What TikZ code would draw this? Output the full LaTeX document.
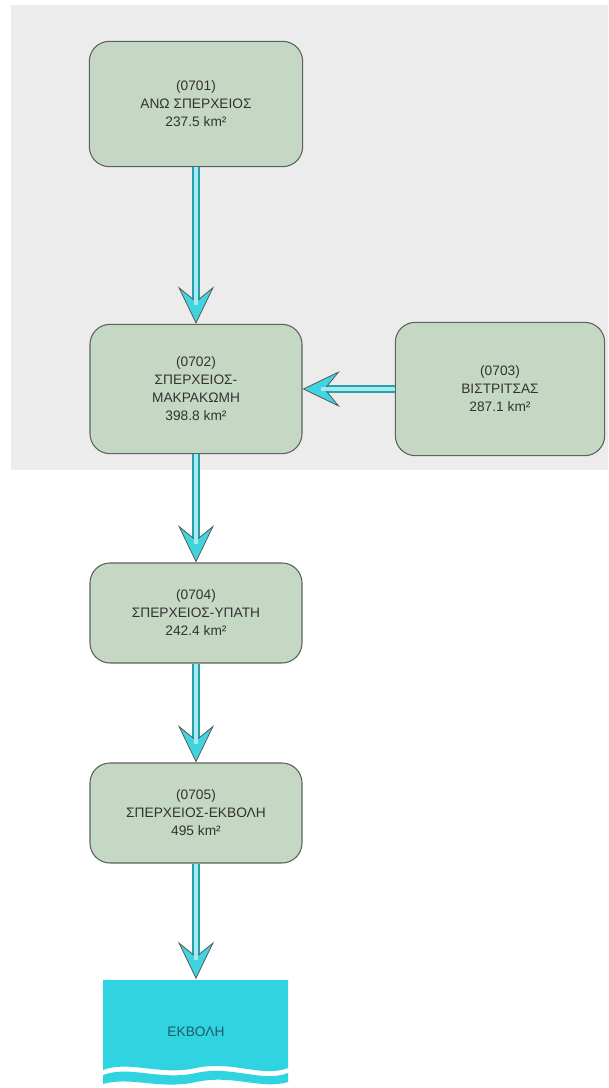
\documentclass[tikz,border=0pt]{standalone}
\usepackage{fontspec}
\setmainfont{Liberation Sans}
\usetikzlibrary{arrows.meta}
\definecolor{bgcloud}{RGB}{236,236,236}
\definecolor{boxfill}{RGB}{197,216,195}
\definecolor{boxline}{RGB}{92,98,92}
\definecolor{flowout}{RGB}{40,160,170}
\definecolor{flowin}{RGB}{165,234,242}
\definecolor{flowtip}{RGB}{64,212,224}
\definecolor{seacol}{RGB}{48,212,224}
\definecolor{txtcol}{RGB}{50,50,50}
\tikzset{
  basin/.style={draw=boxline, line width=0.8pt, fill=boxfill, rounded corners=15pt,
    align=center, text=txtcol, inner sep=0pt, font=\fontsize{10.3}{13.5}\selectfont},
  flow/.style={draw=flowout, line width=6pt,
    -{Stealth[length=28pt,width=27pt,inset=11pt,line width=0.6pt,fill=flowtip,color=gray!70!black]},
    postaction={draw=flowin, line width=2.6pt, -, shorten >=14pt}}
}
\begin{document}
\begin{tikzpicture}[x=0.75pt,y=0.75pt,yscale=-1,xscale=1]
\useasboundingbox (0,0) rectangle (608,1088);

%Shape: Background
\fill[white] (0,0) rectangle (608,1088);
\fill[bgcloud] (11,5) rectangle (608,470);

%Shape: Sea
\fill[seacol] (103,980) -- (288,980) -- (288,1068) .. controls (262,1078) and (232,1060) .. (196,1068) .. controls (160,1076) and (130,1060) .. (103,1070) -- cycle ;
\fill[seacol] (103,1075) .. controls (130,1065) and (160,1081) .. (196,1073) .. controls (232,1065) and (262,1083) .. (288,1073) -- (288,1082) .. controls (262,1090) and (232,1074) .. (196,1082) .. controls (160,1090) and (130,1076) .. (103,1084) -- cycle ;

% Text Node
\node[basin, minimum width=160pt, minimum height=94pt] (b0701) at (196,104) {(0701)\\ΑΝΩ ΣΠΕΡΧΕΙΟΣ\\237.5 km²};
% Text Node
\node[basin, minimum width=159pt, minimum height=97pt] (b0702) at (196,389) {(0702)\\ΣΠΕΡΧΕΙΟΣ-\\ΜΑΚΡΑΚΩΜΗ\\398.8 km²};
% Text Node
\node[basin, minimum width=157pt, minimum height=100pt] (b0703) at (500,389) {(0703)\\ΒΙΣΤΡΙΤΣΑΣ\\287.1 km²};
% Text Node
\node[basin, minimum width=159pt, minimum height=75pt] (b0704) at (196,613) {(0704)\\ΣΠΕΡΧΕΙΟΣ-ΥΠΑΤΗ\\242.4 km²};
% Text Node
\node[basin, minimum width=159pt, minimum height=75pt] (b0705) at (196,813) {(0705)\\ΣΠΕΡΧΕΙΟΣ-ΕΚΒΟΛΗ\\495 km²};
% Text Node
\node[minimum width=139pt, minimum height=79pt, inner sep=0pt, text={rgb,255:red,30;green,90;blue,105}, font=\fontsize{10.3}{13.5}\selectfont] (ekvoli) at (196,1032) {ΕΚΒΟΛΗ};

%Straight Lines
\draw[flow] (b0701) -- (b0702);
\draw[flow] (b0703) -- (b0702);
\draw[flow] (b0702) -- (b0704);
\draw[flow] (b0704) -- (b0705);
\draw[flow] (b0705) -- (ekvoli);

\end{tikzpicture}
\end{document}
